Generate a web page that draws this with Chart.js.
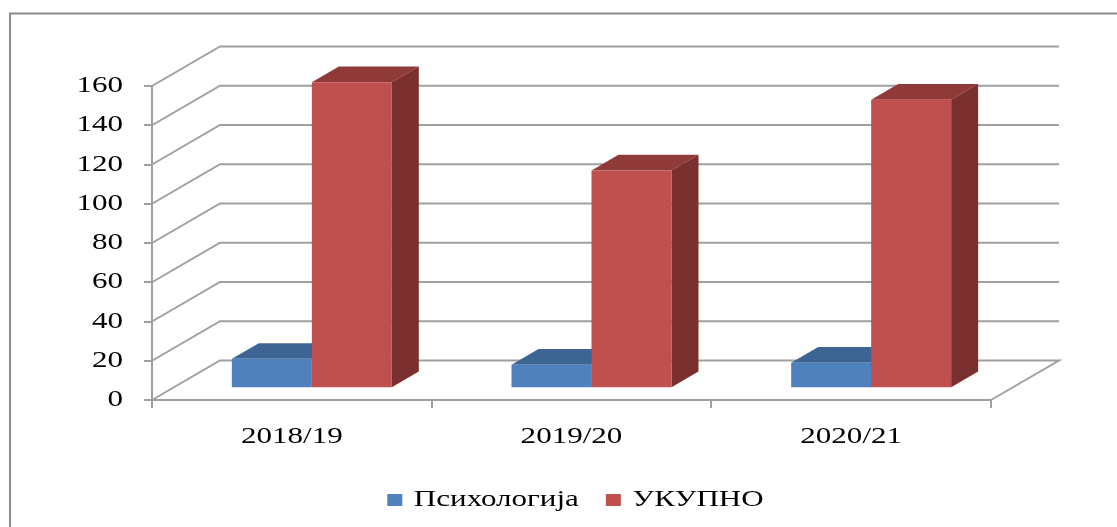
<!DOCTYPE html>
<html>
<head>
<meta charset="utf-8">
<style>html,body{margin:0;padding:0;background:#fff}canvas{display:block;filter:blur(0.45px)}</style>
<script src="https://cdn.jsdelivr.net/npm/chart.js@4"></script>
</head>
<body>
<canvas id="c" width="1117" height="527"></canvas>
<script>
const categories = ['2018/19', '2019/20', '2020/21'];
const psihologija = [15, 12, 13];
const ukupno = [156, 111, 147];
const yTicks = [0, 20, 40, 60, 80, 100, 120, 140, 160];

const DEPTH_X = 68, DEPTH_Y = -39.5;
const BAR_SHIFT_X = 20, BAR_SHIFT_Y = -11.7;
const BAR_DX = 27, BAR_DY = -15.7;
const GRID = '#a0a0a0';
const TEXT_STRETCH = 1.35;
const FONT = { family: '"Liberation Serif"', size: 23 };

const canvas = document.getElementById('c');
const ctx0 = canvas.getContext('2d');

// The reference's lettering is horizontally stretched: widen real text when it is drawn and measured.
const nativeFill = ctx0.fillText.bind(ctx0);
const nativeMeasure = ctx0.measureText.bind(ctx0);
ctx0.fillText = function (t, x, y, m) {
  ctx0.save();
  ctx0.translate(x, y);
  ctx0.scale(TEXT_STRETCH, 1);
  nativeFill(t, 0, 0);
  ctx0.restore();
};
ctx0.measureText = function (t) {
  return { width: nativeMeasure(t).width * TEXT_STRETCH };
};

function poly(ctx, pts, fill) {
  ctx.beginPath();
  pts.forEach((p, i) => i ? ctx.lineTo(p[0], p[1]) : ctx.moveTo(p[0], p[1]));
  ctx.closePath();
  ctx.fillStyle = fill;
  ctx.fill();
}

const shade = [
  { top: '#3e6493', side: '#335478' },
  { top: '#903a38', side: '#7a302e' }
];

const scene3d = {
  id: 'scene3d',
  afterLayout(chart) {
    const lg = chart.legend;
    const h = lg.bottom - lg.top;
    lg.left += 4; lg.right += 4;
    lg.top = 500 - 27 - 11.5;
    lg.bottom = lg.top + h;
  },
  beforeDraw(chart) {
    const ctx = chart.ctx;
    ctx.save();
    ctx.fillStyle = '#fff';
    ctx.fillRect(0, 0, chart.width, chart.height);
    ctx.strokeStyle = '#8c8c8c';
    ctx.lineWidth = 2;
    ctx.beginPath();
    ctx.moveTo(10, 527); ctx.lineTo(10, 13.5); ctx.lineTo(1117, 13.5);
    ctx.stroke();
    const { left, right } = chart.chartArea;
    const y = chart.scales.y;
    ctx.strokeStyle = GRID;
    ctx.lineWidth = 2;
    yTicks.forEach(v => {
      const py = y.getPixelForValue(v);
      ctx.beginPath();
      ctx.moveTo(left, py);
      ctx.lineTo(left + DEPTH_X, py + DEPTH_Y);
      ctx.lineTo(right + DEPTH_X, py + DEPTH_Y);
      if (v === 0) ctx.lineTo(right, py);
      ctx.stroke();
    });
    ctx.restore();
  },
  beforeDatasetsDraw(chart) {
    const ctx = chart.ctx;
    ctx.save();
    ctx.translate(BAR_SHIFT_X, BAR_SHIFT_Y);
    chart.data.datasets.forEach((ds, i) => {
      chart.getDatasetMeta(i).data.forEach(el => {
        const l = el.x - el.width / 2, r = el.x + el.width / 2;
        poly(ctx, [[l, el.y], [l + BAR_DX, el.y + BAR_DY], [r + BAR_DX, el.y + BAR_DY], [r, el.y]], shade[i].top);
        poly(ctx, [[r, el.y], [r + BAR_DX, el.y + BAR_DY], [r + BAR_DX, el.base + BAR_DY], [r, el.base]], shade[i].side);
      });
    });
  },
  afterDatasetsDraw(chart) { chart.ctx.restore(); }
};

new Chart(ctx0, {
  type: 'bar',
  plugins: [scene3d],
  data: {
    labels: categories,
    datasets: [
      { label: 'Психологија', data: psihologija, backgroundColor: '#4F81BD', clip: false },
      { label: 'УКУПНО', data: ukupno, backgroundColor: '#C0504D', clip: false }
    ]
  },
  options: {
    responsive: false,
    animation: false,
    devicePixelRatio: 1,
    categoryPercentage: 0.572,
    barPercentage: 1,
    layout: { padding: { left: 0, right: 126, top: 86, bottom: 0 } },
    plugins: {
      tooltip: { enabled: false },
      legend: {
        position: 'bottom',
        fullSize: false,
        labels: { boxWidth: 15, boxHeight: 12, padding: 27, color: '#000', font: FONT }
      }
    },
    scales: {
      x: {
        afterFit(s) { s.height = 67; },
        grid: { drawOnChartArea: false, color: GRID, lineWidth: 2, tickLength: 8 },
        border: { color: GRID, width: 2 },
        ticks: { color: '#000', padding: 15, maxRotation: 0, font: FONT }
      },
      y: {
        min: 0, max: 160,
        afterFit(s) { s.width = 152; },
        grid: { drawOnChartArea: false, color: GRID, lineWidth: 2, tickLength: 8 },
        border: { color: GRID, width: 2 },
        ticks: { stepSize: 20, color: '#000', padding: 21, font: FONT }
      }
    }
  }
});
</script>
</body>
</html>
